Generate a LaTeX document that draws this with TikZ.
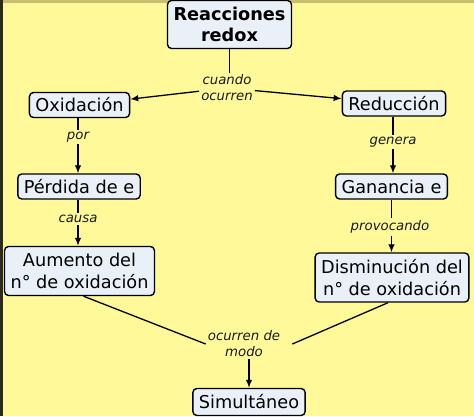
\documentclass[tikz,border=0pt]{standalone}
\usepackage{fontspec}
\setmainfont{DejaVu Sans}
\usetikzlibrary{arrows.meta}
\definecolor{bgyellow}{HTML}{FFF99A}
\definecolor{topstrip}{HTML}{C9BE6E}
\definecolor{leftstrip}{HTML}{2A2A1E}
\definecolor{boxfill}{HTML}{EAF0F7}
\newcommand\bigfnt{\fontsize{17.7}{21.5}\selectfont}
\newcommand\labfnt{\fontsize{13.3}{16}\selectfont\itshape}
\tikzset{
  cbox/.style={draw=black, line width=1.4pt, rounded corners=4pt, fill=boxfill,
    font=\bigfnt, align=center, inner xsep=6pt, inner ysep=4pt, minimum height=25pt},
  cbox2/.style={cbox, minimum height=48pt},
  clab/.style={font=\labfnt, align=center, inner sep=2pt, text=black!90},
  conn/.style={line width=1.3pt, draw=black},
  carr/.style={conn, -{Latex[length=8pt,width=6.5pt]}}
}
\begin{document}
\begin{tikzpicture}[x=1pt,y=-1pt]
\useasboundingbox (0,0) rectangle (474,416);
\fill[bgyellow] (0,0) rectangle (474,416);
\fill[topstrip] (0,0) rectangle (474,2.5);
\fill[leftstrip] (0,0) rectangle (3,416);

\node[cbox2, font=\bigfnt\bfseries] (rr) at (229.5,24.5) {Reacciones\\redox};
\node[cbox] (ox) at (79.5,105) {Oxidación};
\node[cbox] (red) at (394,103.5) {Reducción};
\node[cbox] (per) at (79,186.5) {Pérdida de e};
\node[cbox] (gan) at (391.5,186.5) {Ganancia e};
\node[cbox2, minimum height=49pt] (aum) at (79.5,271) {Aumento del\\n° de oxidación};
\node[cbox2, minimum height=49pt] (dis) at (392,277.5) {Disminución del\\n° de oxidación};
\node[cbox, minimum height=27pt] (sim) at (249,402) {Simultáneo};

\node[clab] (l1) at (227,88) {cuando\\ocurren};
\node[clab] (l2) at (78,137) {por};
\node[clab] (l3) at (393,142) {genera};
\node[clab] (l4) at (78,219) {causa};
\node[clab] (l5) at (390,227) {provocando};
\node[clab] (l6) at (244,344) {ocurren de\\modo};

\draw[conn] (rr.south) -- (l1.north -| rr.south);
\draw[carr] (l1) -- (ox);
\draw[carr] (l1) -- (red);

\draw[conn] (ox.south -| l2) -- (l2.north);
\draw[carr] (l2.south) -- (per.north -| l2);
\draw[conn] (per.south -| l4) -- (l4.north);
\draw[carr] (l4.south) -- (aum.north -| l4);

\draw[conn] (red.south -| l3) -- (l3.north);
\draw[carr] (l3.south) -- (gan.north -| l3);
\draw[conn] (gan.south) -- (l5.north -| gan.south);
\draw[carr] (l5.south -| gan.south) -- (dis.north -| gan.south);

\coordinate (l6r) at ([xshift=10pt]l6.east);
\draw[conn] ([xshift=4pt]aum.south) -- (l6.west);
\draw[conn] ([xshift=-4pt]dis.south) -- (l6r);
\draw[carr] (l6.south -| sim) -- (sim.north);
\end{tikzpicture}
\end{document}
